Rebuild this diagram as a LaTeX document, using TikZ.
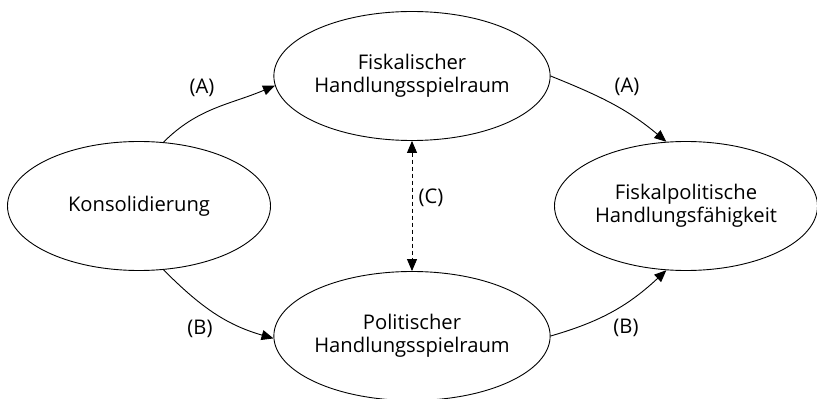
\documentclass[tikz,border=0pt]{standalone}
\usepackage{fontspec}
\setmainfont{Open Sans}
\usetikzlibrary{arrows.meta,shapes.geometric}
\begin{document}
\begin{tikzpicture}[x=1pt,y=1pt,
  every node/.style={font=\fontsize{20.2}{22.8}\selectfont},
  ell/.style={ellipse,draw,line width=0.9pt,minimum width=263pt,minimum height=129pt,inner sep=0pt,align=center},
  conn/.style={line width=0.9pt,-{Triangle[length=12pt,width=10pt]}},
  dconn/.style={line width=0.9pt,dash pattern=on 4pt off 3pt,{Triangle[length=12pt,width=10pt]}-{Triangle[length=12pt,width=10pt]}},
  lbl/.style={inner sep=1pt}]
\useasboundingbox (0,0) rectangle (817,399);
\node[ell] (K) at (139,193) {Konsolidierung};
\node[ell] (F) at (412,323) {Fiskalischer\\Handlungsspielraum};
\node[ell] (H) at (686,193) {Fiskalpolitische\\Handlungsfähigkeit};
\node[ell] (P) at (412,63) {Politischer\\Handlungsspielraum};
\draw[conn] (K.69) to[out=45,in=203] (F.184);
\draw[conn] (F.east) to[out=-22,in=140] (H.107);
\draw[conn] (K.-69) to[out=-45,in=164] (P.181);
\draw[conn] (P.east) to[out=16,in=-137] (H.-107);
\draw[dconn] (F.south) -- (P.north);
\node[lbl] (la1) at (202,311) {(A)};
\node[lbl] (la2) at (627,312) {(A)};
\node[lbl] (lb1) at (200,70) {(B)};
\node[lbl] (lb2) at (626,71) {(B)};
\node[lbl] (lc) at (431,201) {(C)};
\end{tikzpicture}
\end{document}
